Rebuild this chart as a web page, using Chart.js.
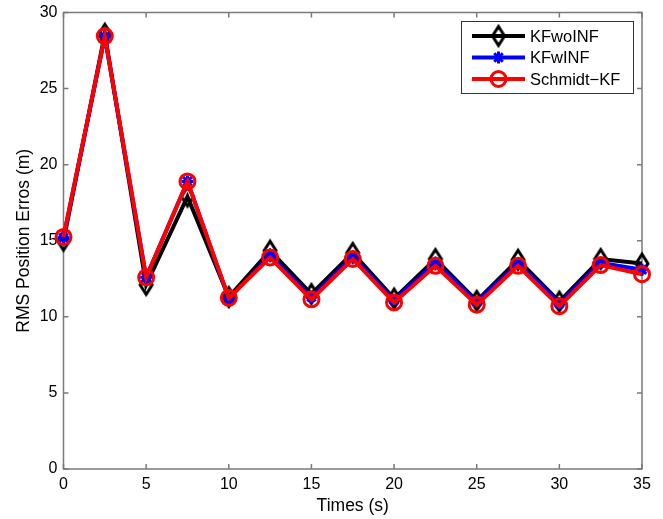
<!DOCTYPE html>
<html>
<head>
<meta charset="utf-8">
<script src="https://cdn.jsdelivr.net/npm/chart.js@4.4.0/dist/chart.umd.min.js"></script>
<style>
  html, body { margin: 0; padding: 0; background: #fff; }
  #wrap { width: 663px; height: 519px; }
</style>
</head>
<body>
<div id="wrap"><canvas id="chart" width="663" height="519"></canvas></div>
<script>
const times = [0, 2.5, 5, 7.5, 10, 12.5, 15, 17.5, 20, 22.5, 25, 27.5, 30, 32.5, 35];
const kfwoInf = [15.0, 28.6, 12.1, 17.9, 11.3, 14.35, 11.5, 14.2, 11.2, 13.8, 11.05, 13.75, 11.0, 13.8, 13.5];
const kfwInf = [15.2, 28.4, 12.6, 18.9, 11.2, 14.05, 11.3, 13.95, 11.1, 13.55, 11.0, 13.5, 10.9, 13.55, 13.1];
const schmidt = [15.25, 28.45, 12.6, 18.9, 11.25, 13.9, 11.15, 13.8, 10.95, 13.35, 10.8, 13.35, 10.7, 13.4, 12.8];
const seriesNames = ["KFwoINF", "KFwINF", "Schmidt\u2212KF"];
const xTicks = [0, 5, 10, 15, 20, 25, 30, 35];
const yTicks = [0, 5, 10, 15, 20, 25, 30];

const FONT = "'Liberation Sans', Arial, Helvetica, sans-serif";
const AXIS_GREY = "#7a7a7a";

// MATLAB style diamond (taller than wide), open
function diamondMarker() {
  const c = document.createElement("canvas");
  c.width = 22; c.height = 26;
  const g = c.getContext("2d");
  g.strokeStyle = "#000";
  g.lineWidth = 3;
  g.lineJoin = "miter";
  g.beginPath();
  g.moveTo(11, 3.5);
  g.lineTo(17, 13);
  g.lineTo(11, 22.5);
  g.lineTo(5, 13);
  g.closePath();
  g.stroke();
  return c;
}
const diamond = diamondMarker();

const toPts = vals => vals.map((v, i) => ({ x: times[i], y: v }));

// axes box + inward ticks on all four sides
const frame = {
  id: "frame",
  beforeDatasetsDraw(chart) {
    const { ctx, chartArea: a, scales } = chart;
    ctx.save();
    ctx.strokeStyle = AXIS_GREY;
    ctx.lineWidth = 1.5;
    ctx.strokeRect(a.left, a.top, a.right - a.left, a.bottom - a.top);
    const len = 5;
    ctx.beginPath();
    xTicks.forEach(t => {
      const x = scales.x.getPixelForValue(t);
      ctx.moveTo(x, a.bottom); ctx.lineTo(x, a.bottom - len);
      ctx.moveTo(x, a.top); ctx.lineTo(x, a.top + len);
    });
    yTicks.forEach(t => {
      const y = scales.y.getPixelForValue(t);
      ctx.moveTo(a.left, y); ctx.lineTo(a.left + len, y);
      ctx.moveTo(a.right, y); ctx.lineTo(a.right - len, y);
    });
    ctx.stroke();
    ctx.restore();
  }
};

// legend box in the upper right, line sample + marker like MATLAB
const boxLegend = {
  id: "boxLegend",
  afterDraw(chart) {
    const { ctx } = chart;
    const x0 = 461, y0 = 21, w = 172, h = 72;
    ctx.save();
    ctx.fillStyle = "#fff";
    ctx.fillRect(x0, y0, w, h);
    ctx.strokeStyle = "#333";
    ctx.lineWidth = 1;
    ctx.strokeRect(x0 + 0.5, y0 + 0.5, w, h);
    ctx.font = "16.5px " + FONT;
    ctx.textBaseline = "middle";
    chart.data.datasets.forEach((ds, i) => {
      const y = 36 + i * 21.5;
      ctx.strokeStyle = ds.borderColor;
      ctx.lineWidth = ds.borderWidth;
      ctx.beginPath();
      ctx.moveTo(472, y); ctx.lineTo(525, y);
      ctx.stroke();
      ctx.fillStyle = "rgba(0,0,0,0)";
      ctx.strokeStyle = ds.pointBorderColor;
      ctx.lineWidth = ds.pointBorderWidth;
      Chart.helpers.drawPoint(ctx, {
        pointStyle: ds.pointStyle,
        radius: ds.pointRadius,
        borderWidth: ds.pointBorderWidth,
        rotation: 0
      }, 498.5, y);
      ctx.fillStyle = "#000";
      ctx.fillText(ds.label, 530, y + 1);
    });
    ctx.restore();
  }
};

new Chart(document.getElementById("chart"), {
  type: "line",
  data: {
    datasets: [
      {
        label: seriesNames[0], data: toPts(kfwoInf),
        borderColor: "#000000", backgroundColor: "rgba(0,0,0,0)",
        borderWidth: 4, pointStyle: diamond, pointRadius: 8, pointBorderWidth: 3,
        pointBorderColor: "#000000", pointBackgroundColor: "rgba(0,0,0,0)"
      },
      {
        label: seriesNames[1], data: toPts(kfwInf),
        borderColor: "#0000ff", backgroundColor: "rgba(0,0,0,0)",
        borderWidth: 4, pointStyle: "star", pointRadius: 6, pointBorderWidth: 3,
        pointBorderColor: "#0000ff", pointBackgroundColor: "rgba(0,0,0,0)"
      },
      {
        label: seriesNames[2], data: toPts(schmidt),
        borderColor: "#ff0000", backgroundColor: "rgba(0,0,0,0)",
        borderWidth: 4, pointStyle: "circle", pointRadius: 7.5, pointBorderWidth: 3,
        pointBorderColor: "#ff0000", pointBackgroundColor: "rgba(0,0,0,0)"
      }
    ].map((d, i) => ({ ...d, order: 2 - i, tension: 0, clip: false, pointHoverRadius: d.pointRadius }))
  },
  options: {
    responsive: false,
    animation: false,
    devicePixelRatio: 1,
    layout: { padding: { top: 12.5, right: 21, left: 0, bottom: 0 } },
    plugins: { legend: { display: false }, tooltip: { enabled: false } },
    scales: {
      x: {
        type: "linear", min: 0, max: 35,
        grid: { display: false, drawTicks: false },
        border: { display: false },
        afterBuildTicks: s => { s.ticks = xTicks.map(v => ({ value: v })); },
        afterFit: s => { s.height = 50; s.paddingLeft = 0; s.paddingRight = 0; },
        ticks: { padding: 6, color: "#000", font: { family: FONT, size: 16 }, maxRotation: 0 },
        title: { display: true, text: "Times (s)", color: "#000", font: { family: FONT, size: 17.5 }, padding: { top: 0, bottom: 2 } }
      },
      y: {
        type: "linear", min: 0, max: 30,
        grid: { display: false, drawTicks: false },
        border: { display: false },
        afterBuildTicks: s => { s.ticks = yTicks.map(v => ({ value: v })); },
        afterFit: s => { s.width = 63.5; s.paddingTop = 0; s.paddingBottom = 0; },
        ticks: { padding: 6, color: "#000", font: { family: FONT, size: 16 } },
        title: { display: true, text: "RMS Position Erros (m)", color: "#000", font: { family: FONT, size: 17.5 }, padding: { top: 14, bottom: 0 } }
      }
    }
  },
  plugins: [frame, boxLegend]
});
</script>
</body>
</html>
